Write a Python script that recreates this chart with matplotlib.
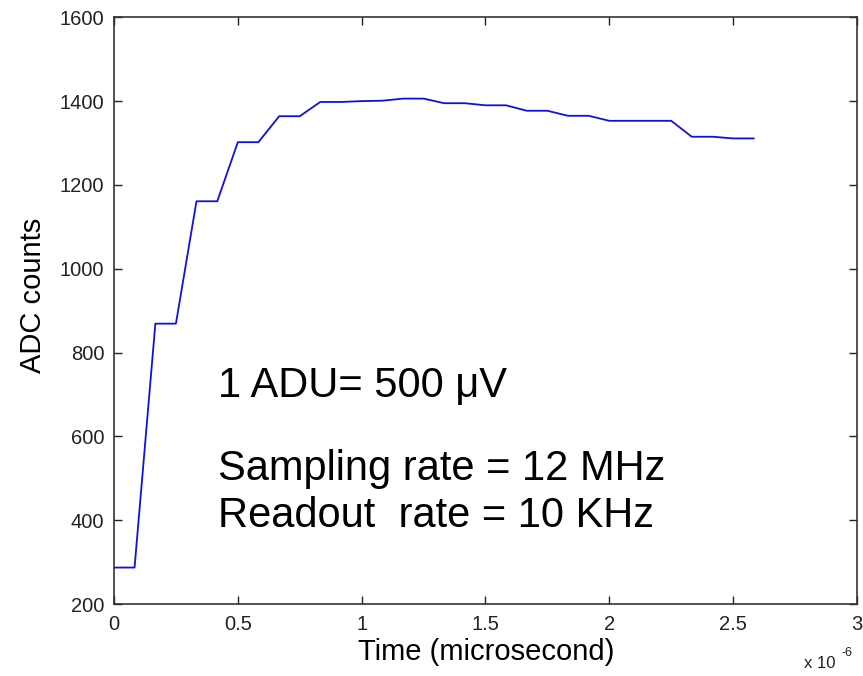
import matplotlib
matplotlib.use("Agg")
import matplotlib.pyplot as plt
from matplotlib.ticker import FuncFormatter

plt.rcParams['font.family'] = ['Liberation Sans', 'DejaVu Sans']

# sample times in microseconds (12 MHz sampling) and ADC counts
time_us = [0.000, 0.083, 0.167, 0.250, 0.333, 0.417, 0.500, 0.583,
           0.667, 0.750, 0.833, 0.917, 1.000, 1.083, 1.167, 1.250,
           1.333, 1.417, 1.500, 1.583, 1.667, 1.750, 1.833, 1.917,
           2.000, 2.083, 2.167, 2.250, 2.333, 2.417, 2.500, 2.583]
adc_counts = [287, 287, 869, 869, 1161, 1161, 1302, 1302,
              1364, 1364, 1398, 1398, 1400, 1401, 1406, 1406,
              1395, 1395, 1390, 1390, 1377, 1377, 1365, 1365,
              1353, 1353, 1353, 1353, 1315, 1315, 1311, 1311]

x_ticks = [0, 0.5, 1, 1.5, 2, 2.5, 3]
y_ticks = [200, 400, 600, 800, 1000, 1200, 1400, 1600]

notes = ["1 ADU= 500 \u03bcV", "Sampling rate = 12 MHz", "Readout  rate = 10 KHz"]

fig = plt.figure(figsize=(8.63, 6.76), dpi=100)
ax = fig.add_axes([0.1321, 0.1065, 0.8609, 0.8679])

ax.plot(time_us, adc_counts, color='#1010e0', lw=1.3)

ax.set_xlim(0, 3)
ax.set_ylim(200, 1600)
ax.set_xticks(x_ticks)
ax.set_yticks(y_ticks)
ax.xaxis.set_major_formatter(FuncFormatter(lambda v, p: f"{v:g}"))
ax.tick_params(direction='in', top=True, right=True, length=6, width=1,
               labelsize=14.5, colors='#222222')
ax.tick_params(axis='x', pad=8)
ax.tick_params(axis='y', pad=7)
for s in ax.spines.values():
    s.set_color('#333333')
    s.set_linewidth(1.2)

ax.set_xlabel("Time (microsecond)", fontsize=21)
ax.set_ylabel("ADC counts", fontsize=21)
ax.xaxis.set_label_coords(0.501, -0.058)
ax.yaxis.set_label_coords(-0.090, 0.526)

# exponent marker below the x axis
fig.text(0.932, 1 - 668 / 676, "x 10", fontsize=12, color='#222222', va='baseline')
fig.text(0.975, 1 - 656 / 676, "-6", fontsize=9, color='#222222', va='baseline')

# annotations
fig.text(0.2526, 1 - 397 / 676, notes[0], fontsize=30, va='baseline')
fig.text(0.2526, 1 - 480 / 676, notes[1], fontsize=30, va='baseline')
fig.text(0.2526, 1 - 527 / 676, notes[2], fontsize=30, va='baseline')

fig.savefig("out.png", dpi=100)
